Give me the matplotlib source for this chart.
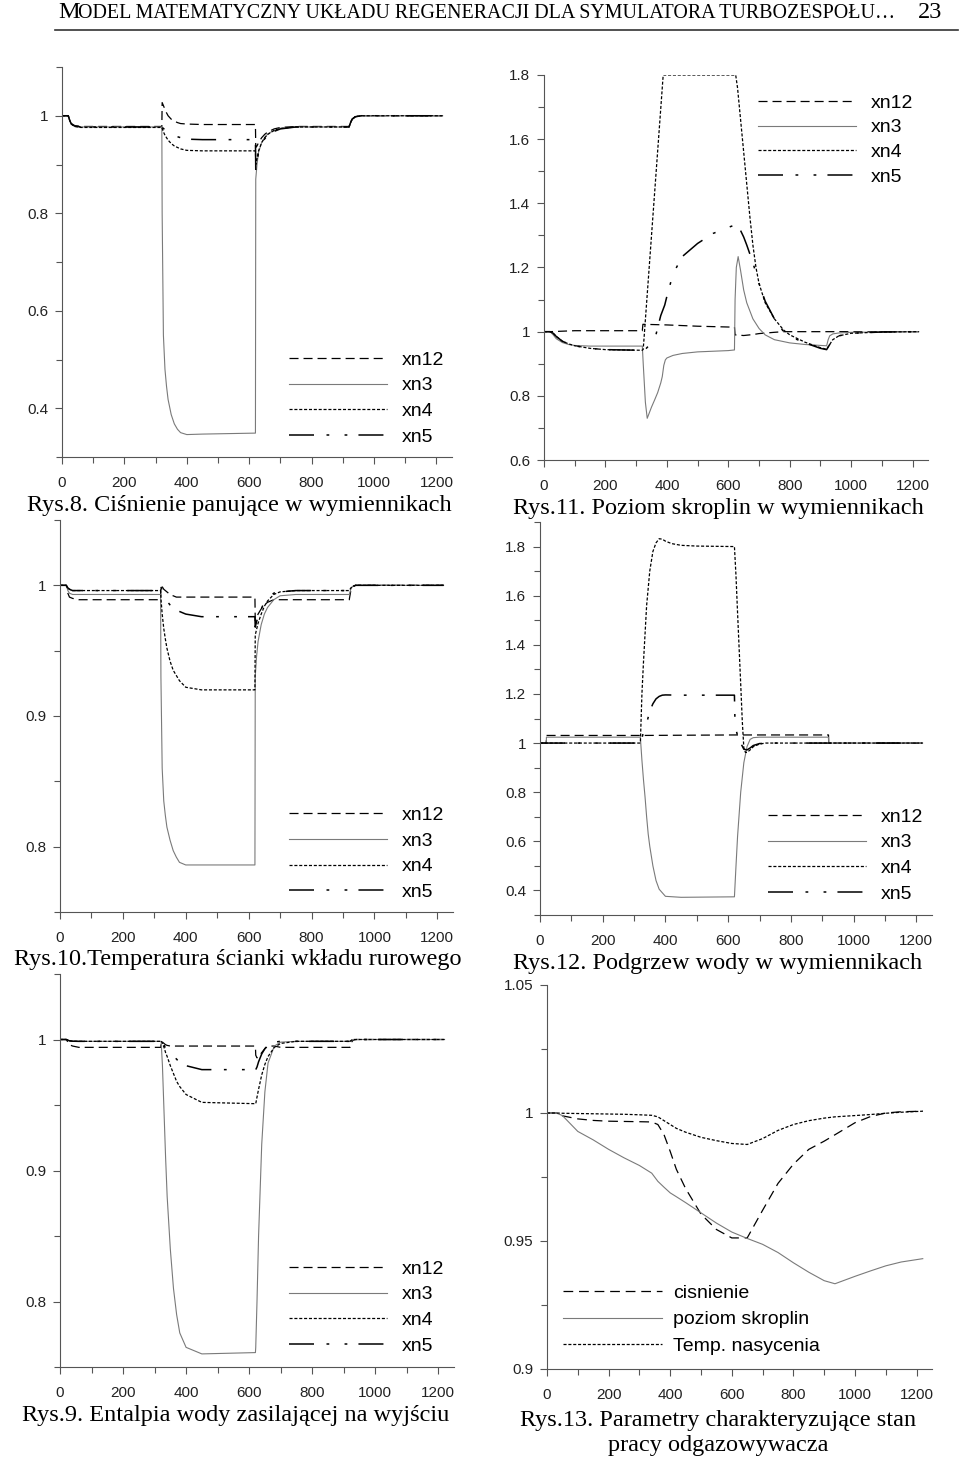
import numpy as np
import matplotlib.pyplot as plt
from matplotlib.lines import Line2D
from matplotlib.ticker import MultipleLocator, FuncFormatter

plt.rcParams['font.family'] = ['Liberation Sans', 'DejaVu Sans']
plt.rcParams['lines.scale_dashes'] = False

# ---------------- data ----------------
# shared time grid for Rys.8, Rys.10, Rys.9
t_grid = [0, 20, 25, 30, 40, 60, 320, 321, 325, 330, 335, 340, 350, 360, 370, 380,
          400, 450, 620, 621, 625, 630, 640, 650, 660, 680, 700, 750, 920, 925, 930,
          940, 960, 1220]

# Rys.8 - cisnienie
r8_xn12 = [1.0, 1.0, 0.99, 0.984, 0.98, 0.978, 0.978, 1.027, 1.021, 1.013, 1.006, 1.0,
           0.993, 0.989, 0.986, 0.984, 0.983, 0.982, 0.982, 0.935, 0.938, 0.945, 0.955,
           0.962, 0.967, 0.973, 0.976, 0.978, 0.978, 0.986, 0.993, 0.998, 1.0, 1.0]
r8_xn3 = [1.0, 1.0, 0.99, 0.983, 0.979, 0.977, 0.977, 0.80, 0.55, 0.48, 0.445, 0.418,
          0.387, 0.368, 0.357, 0.35, 0.346, 0.347, 0.349, 0.87, 0.90, 0.925, 0.945,
          0.956, 0.963, 0.970, 0.974, 0.977, 0.977, 0.986, 0.993, 0.998, 1.0, 1.0]
r8_xn4 = [1.0, 1.0, 0.99, 0.983, 0.978, 0.976, 0.976, 0.974, 0.967, 0.96, 0.955, 0.95,
          0.943, 0.938, 0.935, 0.932, 0.929, 0.928, 0.928, 0.90, 0.912, 0.928, 0.945,
          0.955, 0.962, 0.970, 0.974, 0.977, 0.977, 0.986, 0.993, 0.998, 1.0, 1.0]
r8_xn5 = [1.0, 1.0, 0.99, 0.983, 0.979, 0.977, 0.977, 0.976, 0.974, 0.971, 0.969, 0.966,
          0.962, 0.959, 0.957, 0.955, 0.952, 0.951, 0.951, 0.89, 0.905, 0.925, 0.943,
          0.953, 0.96, 0.968, 0.973, 0.977, 0.977, 0.986, 0.993, 0.998, 1.0, 1.0]

# Rys.10 - temperatura scianki
r10_xn12 = [1.0, 1.0, 0.994, 0.991, 0.99, 0.989, 0.989, 1.0, 0.999, 0.997, 0.996, 0.995,
            0.993, 0.992, 0.991, 0.991, 0.991, 0.991, 0.991, 0.973, 0.975, 0.978, 0.982,
            0.985, 0.987, 0.989, 0.989, 0.989, 0.989, 0.996, 0.999, 1.0, 1.0, 1.0]
r10_xn3 = [1.0, 1.0, 0.996, 0.994, 0.993, 0.993, 0.993, 0.93, 0.86, 0.835, 0.824, 0.815,
           0.805, 0.797, 0.792, 0.788, 0.786, 0.786, 0.786, 0.93, 0.945, 0.957, 0.970,
           0.978, 0.983, 0.989, 0.992, 0.993, 0.993, 0.997, 0.999, 1.0, 1.0, 1.0]
r10_xn4 = [1.0, 1.0, 0.998, 0.997, 0.996, 0.996, 0.996, 0.99, 0.978, 0.967, 0.959, 0.952,
           0.942, 0.935, 0.931, 0.927, 0.922, 0.920, 0.920, 0.962, 0.966, 0.971, 0.978,
           0.984, 0.988, 0.993, 0.995, 0.996, 0.996, 0.998, 0.999, 1.0, 1.0, 1.0]
r10_xn5 = [1.0, 1.0, 0.998, 0.997, 0.996, 0.996, 0.996, 0.999, 0.996, 0.992, 0.990, 0.988,
           0.985, 0.983, 0.981, 0.980, 0.978, 0.976, 0.976, 0.968, 0.972, 0.976, 0.982,
           0.987, 0.990, 0.994, 0.995, 0.996, 0.996, 0.998, 0.999, 1.0, 1.0, 1.0]

# Rys.9 - entalpia wody zasilajacej
r9_xn12 = [1.0, 1.0, 0.998, 0.996, 0.995, 0.994, 0.994, 0.999, 0.998, 0.997, 0.996, 0.9955,
           0.995, 0.995, 0.995, 0.995, 0.995, 0.995, 0.995, 0.988, 0.986, 0.987, 0.99,
           0.993, 0.995, 0.995, 0.994, 0.994, 0.994, 0.998, 0.9995, 1.0, 1.0, 1.0]
r9_xn3 = [1.0, 1.0, 0.9995, 0.999, 0.9987, 0.9986, 0.9986, 0.998, 0.98, 0.945, 0.91, 0.88,
          0.84, 0.81, 0.79, 0.776, 0.765, 0.760, 0.761, 0.765, 0.80, 0.85, 0.92,
          0.96, 0.982, 0.995, 0.998, 0.9986, 0.9986, 0.9995, 1.0, 1.0, 1.0, 1.0]
r9_xn4 = [1.0, 1.0, 0.9995, 0.999, 0.9987, 0.9986, 0.9986, 0.999, 0.997, 0.994, 0.99, 0.987,
          0.98, 0.974, 0.968, 0.964, 0.958, 0.952, 0.951, 0.951, 0.956, 0.962, 0.973,
          0.981, 0.987, 0.994, 0.997, 0.9986, 0.9986, 0.9995, 1.0, 1.0, 1.0, 1.0]
r9_xn5 = [1.0, 1.0, 0.9995, 0.999, 0.9987, 0.9986, 0.9986, 0.999, 0.998, 0.996, 0.993, 0.991,
          0.989, 0.987, 0.985, 0.982, 0.980, 0.977, 0.977, 0.977, 0.979, 0.983, 0.989,
          0.993, 0.996, 0.998, 0.9986, 0.9986, 0.9986, 0.9995, 1.0, 1.0, 1.0, 1.0]

# Rys.11 - poziom skroplin (own time points per series)
r11_xn12_t = [0, 20, 100, 320, 322, 400, 500, 620, 622, 650, 680, 700, 750, 780, 1220]
r11_xn12 = [1.0, 1.0, 1.003, 1.003, 1.023, 1.021, 1.017, 1.014, 0.99, 0.988, 0.991, 0.994,
            0.998, 1.0, 1.0]
r11_xn3_t = [0, 20, 30, 40, 60, 80, 100, 150, 320, 323, 330, 336, 340, 350, 360, 370, 380,
             385, 390, 395, 400, 420, 450, 500, 600, 620, 622, 626, 632, 640, 650, 660,
             680, 700, 720, 750, 800, 850, 920, 925, 930, 940, 960, 1000, 1100, 1220]
r11_xn3 = [1.0, 1.0, 0.99, 0.978, 0.966, 0.96, 0.957, 0.955, 0.955, 0.90, 0.78, 0.73, 0.74,
           0.765, 0.787, 0.81, 0.84, 0.86, 0.895, 0.912, 0.918, 0.926, 0.932, 0.937, 0.941,
           0.943, 1.10, 1.20, 1.234, 1.19, 1.13, 1.09, 1.04, 1.01, 0.99, 0.975, 0.965, 0.96,
           0.956, 0.975, 0.987, 0.993, 0.996, 0.998, 0.999, 1.0]
r11_xn4_t = [0, 20, 30, 40, 60, 80, 100, 150, 200, 320, 323, 388, 624, 630, 640, 650, 660,
             670, 680, 690, 700, 720, 750, 780, 800, 850, 900, 920, 930, 940, 960, 1000,
             1100, 1220]
r11_xn4 = [1.0, 1.0, 0.995, 0.985, 0.97, 0.962, 0.956, 0.948, 0.944, 0.942, 0.945, 1.8, 1.8,
           1.76, 1.66, 1.56, 1.46, 1.36, 1.27, 1.2, 1.15, 1.09, 1.04, 1.005, 0.99, 0.967,
           0.95, 0.945, 0.96, 0.975, 0.987, 0.995, 0.999, 1.0]
r11_xn5_t = [0, 20, 30, 40, 60, 80, 100, 150, 200, 320, 330, 340, 350, 361, 372, 380, 393,
             400, 420, 450, 500, 550, 600, 620, 630, 640, 650, 660, 680, 700, 720, 750,
             780, 800, 850, 900, 920, 930, 940, 960, 1000, 1100, 1220]
r11_xn5 = [1.0, 1.0, 0.995, 0.985, 0.97, 0.962, 0.956, 0.948, 0.944, 0.942, 0.945, 0.955,
           0.965, 0.977, 1.02, 1.05, 1.083, 1.11, 1.18, 1.234, 1.275, 1.306, 1.325, 1.332,
           1.33, 1.315, 1.295, 1.27, 1.215, 1.15, 1.095, 1.04, 1.0, 0.985, 0.965, 0.948,
           0.944, 0.96, 0.975, 0.987, 0.995, 0.999, 1.0]

# Rys.12 - podgrzew wody
r12_xn12_t = [0, 20, 20.5, 320, 620, 920, 920.5, 1220]
r12_xn12 = [1.0, 1.0, 1.031, 1.031, 1.033, 1.033, 1.0, 1.0]
r12_xn3_t = [0, 20, 20.5, 320, 325, 330, 335, 340, 345, 350, 360, 370, 380, 400, 450, 620,
             625, 630, 640, 650, 660, 670, 680, 700, 920, 920.5, 1220]
r12_xn3 = [1.0, 1.0, 1.024, 1.024, 0.93, 0.85, 0.78, 0.70, 0.63, 0.58, 0.50, 0.44, 0.405,
           0.376, 0.372, 0.374, 0.50, 0.62, 0.80, 0.92, 0.985, 1.015, 1.022, 1.024, 1.024,
           1.0, 1.0]
r12_xn4_t = [0, 320, 325, 330, 340, 350, 360, 370, 380, 390, 400, 420, 450, 500, 620, 625,
             630, 640, 645, 650, 655, 660, 670, 680, 700, 720, 1220]
r12_xn4 = [1.0, 1.0, 1.20, 1.33, 1.56, 1.70, 1.78, 1.815, 1.832, 1.83, 1.822, 1.812, 1.805,
           1.802, 1.80, 1.68, 1.53, 1.24, 1.09, 0.98, 0.962, 0.962, 0.972, 0.985, 0.996, 1.0,
           1.0]
r12_xn5_t = [0, 320, 325, 330, 340, 350, 360, 370, 380, 390, 400, 450, 620, 622, 630, 640,
             650, 660, 670, 680, 700, 750, 1220]
r12_xn5 = [1.0, 1.0, 1.02, 1.045, 1.08, 1.13, 1.16, 1.18, 1.19, 1.195, 1.196, 1.195, 1.195,
           1.07, 1.03, 1.0, 0.975, 0.972, 0.98, 0.99, 0.998, 1.0, 1.0]

# Rys.13 - odgazowywacz
r13_t = [0, 30, 50, 100, 150, 200, 250, 300, 340, 360, 380, 400, 420, 450, 500, 550, 600,
         650, 700, 750, 800, 850, 900, 935, 1000, 1050, 1100, 1150, 1220]
r13_cisnienie = [1.0, 1.0, 0.9989, 0.9977, 0.9971, 0.9968, 0.9967, 0.9966, 0.9965, 0.9955,
                 0.9915, 0.985, 0.978, 0.9705, 0.9605, 0.9545, 0.9512, 0.9512, 0.962,
                 0.9725, 0.980, 0.9858, 0.989, 0.9915, 0.9962, 0.9986, 1.0, 1.0005, 1.0007]
r13_poziom = [1.0, 1.0, 0.999, 0.9928, 0.9895, 0.9858, 0.9825, 0.9795, 0.9765, 0.9733,
              0.971, 0.9688, 0.9673, 0.965, 0.961, 0.957, 0.9535, 0.951, 0.9487, 0.9455,
              0.9415, 0.9378, 0.9345, 0.9333, 0.9362, 0.9383, 0.9403, 0.9418, 0.9431]
r13_temp = [1.0, 1.0, 0.9999, 0.9998, 0.9997, 0.9996, 0.9995, 0.9993, 0.9991, 0.9985,
            0.997, 0.9955, 0.994, 0.9925, 0.9905, 0.9892, 0.9881, 0.9877, 0.99, 0.9932,
            0.9955, 0.997, 0.998, 0.9985, 0.999, 0.9994, 0.9999, 1.0003, 1.0007]

series_names = ['xn12', 'xn3', 'xn4', 'xn5']
r13_names = ['cisnienie', 'poziom skroplin', 'Temp. nasycenia']

captions = ['Rys.8. Ciśnienie panujące w wymiennikach',
            'Rys.11. Poziom skroplin w wymiennikach',
            'Rys.10.Temperatura ścianki wkładu rurowego',
            'Rys.12. Podgrzew wody w wymiennikach',
            'Rys.9. Entalpia wody zasilającej na wyjściu',
            'Rys.13. Parametry charakteryzujące stan\npracy odgazowywacza']

# ---------------- figure ----------------
W, H = 960, 1464
fig = plt.figure(figsize=(W / 100, H / 100), dpi=100)


def box(l, t, r, b):
    return [l / W, 1 - b / H, (r - l) / W, (b - t) / H]


styles = {
    'xn12': dict(color='black', lw=0.9, dashes=(6.5, 3.6)),
    'xn3': dict(color='#7a7a7a', lw=0.8),
    'xn4': dict(color='black', lw=0.9, dashes=(2.2, 1.3)),
    'xn5': dict(color='black', lw=1.1, dashes=(18, 9, 2, 11, 2, 8)),
}


def setup(ax, ylim, major, minor):
    ax.set_xlim(0, 1250)
    ax.set_ylim(*ylim)
    for s in ['top', 'right']:
        ax.spines[s].set_visible(False)
    for s in ['left', 'bottom']:
        ax.spines[s].set_color('#555555')
        ax.spines[s].set_linewidth(0.8)
    ax.xaxis.set_major_locator(MultipleLocator(200))
    ax.xaxis.set_minor_locator(MultipleLocator(100))
    ax.yaxis.set_major_locator(MultipleLocator(major))
    ax.yaxis.set_minor_locator(MultipleLocator(minor))
    ax.yaxis.set_major_formatter(FuncFormatter(lambda v, p: f'{round(v, 4):g}'))
    ax.tick_params(which='both', direction='out', color='#555555', width=0.8,
                   labelsize=11, labelcolor='#222222')
    ax.tick_params(which='major', length=5)
    ax.tick_params(which='minor', length=4)
    ax.tick_params(axis='x', which='major', pad=9)
    ax.tick_params(axis='y', which='major', pad=5)
    ax.set_facecolor('none')


def add_legend(ax, fx, fy, spacing=0.42):
    ax.legend(loc='upper left', bbox_to_anchor=(fx, fy), frameon=False, fontsize=14,
              handlelength=5.05, handletextpad=0.75, labelspacing=spacing,
              borderpad=0, borderaxespad=0)


def panel_grid(rect, ylim, major, minor, values, leg):
    ax = fig.add_axes(rect)
    for name, vals in zip(series_names, values):
        ax.plot(t_grid, vals, label=name, **styles[name])
    setup(ax, ylim, major, minor)
    add_legend(ax, *leg)
    return ax


def panel_own(rect, ylim, major, minor, pairs, leg):
    ax = fig.add_axes(rect)
    for name, (tt, vals) in zip(series_names, pairs):
        ax.plot(tt, vals, label=name, **styles[name])
    setup(ax, ylim, major, minor)
    add_legend(ax, *leg)
    return ax


# Rys.8
panel_grid(box(62, 67, 452, 457), (0.3, 1.1), 0.2, 0.1,
           [r8_xn12, r8_xn3, r8_xn4, r8_xn5], (0.582, 0.272))
# Rys.11
panel_own(box(544, 75, 928, 460), (0.6, 1.8), 0.2, 0.1,
          [(r11_xn12_t, r11_xn12), (r11_xn3_t, r11_xn3),
           (r11_xn4_t, r11_xn4), (r11_xn5_t, r11_xn5)], (0.557, 0.95, 0.36))
# Rys.10
panel_grid(box(60, 520, 453, 912), (0.75, 1.05), 0.1, 0.05,
           [r10_xn12, r10_xn3, r10_xn4, r10_xn5], (0.583, 0.27))
# Rys.12
panel_own(box(540, 522, 932, 915), (0.3, 1.9), 0.2, 0.1,
          [(r12_xn12_t, r12_xn12), (r12_xn3_t, r12_xn3),
           (r12_xn4_t, r12_xn4), (r12_xn5_t, r12_xn5)], (0.582, 0.272))
# Rys.9
panel_grid(box(60, 974, 454, 1367), (0.75, 1.05), 0.1, 0.05,
           [r9_xn12, r9_xn3, r9_xn4, r9_xn5], (0.581, 0.272))

# Rys.13
ax6 = fig.add_axes(box(547, 985, 932, 1369))
ax6.plot(r13_t, r13_cisnienie, label=r13_names[0], color='black', lw=0.9, dashes=(7, 4.2))
ax6.plot(r13_t, r13_poziom, label=r13_names[1], color='#7a7a7a', lw=0.8)
ax6.plot(r13_t, r13_temp, label=r13_names[2], color='black', lw=0.9, dashes=(2.2, 1.3))
setup(ax6, (0.9, 1.05), 0.05, 0.025)
ax6.legend(loc='upper left', bbox_to_anchor=(0.042, 0.22), frameon=False, fontsize=14,
           handlelength=5.1, handletextpad=0.55, labelspacing=0.45,
           borderpad=0, borderaxespad=0)

# captions
cap_pos = [(239, 505), (718, 508), (238, 960), (718, 963), (236, 1415), (718, 1433)]
for (cx, cy), txt in zip(cap_pos, captions):
    fig.text(cx / W, 1 - cy / H, txt, ha='center', va='center', fontsize=17.5,
             family='Liberation Serif', linespacing=1.3)

# running header
fig.text(58 / W, 1 - 13 / H, 'M', fontsize=17.5, family='Liberation Serif', va='center')
fig.text(78 / W, 1 - 14 / H, 'ODEL MATEMATYCZNY UKŁADU REGENERACJI DLA SYMULATORA TURBOZESPOŁU…',
         fontsize=14.4, family='Liberation Serif', va='center')
fig.text(942 / W, 1 - 13 / H, '23', fontsize=17.5, family='Liberation Serif', va='center', ha='right')
fig.add_artist(Line2D([55 / W, 958 / W], [1 - 30 / H, 1 - 30 / H], color='#333333', lw=1.2,
                      transform=fig.transFigure))

fig.savefig('out.png', dpi=100)
